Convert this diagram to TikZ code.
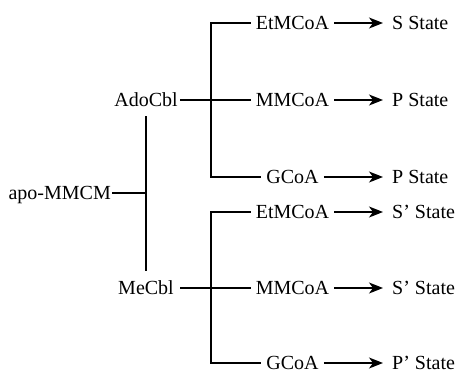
\documentclass[tikz,border=0pt]{standalone}
\usepackage{fontspec}
\setmainfont{Liberation Serif}
\usetikzlibrary{arrows.meta}
\begin{document}
\begin{tikzpicture}[x=1pt,y=-1pt,
  every node/.style={font=\fontsize{20}{24}\selectfont, inner ysep=0pt,
    text height=13pt, text depth=1pt},
  link/.style={line width=1.3pt},
  flow/.style={line width=1.3pt, -{Stealth[length=14pt,width=11pt,inset=4pt]}},
  species/.style={inner xsep=5pt},
  outcome/.style={anchor=west, inner xsep=9pt}]
\useasboundingbox (0,0) rectangle (459,373);

% enzyme and cofactors
\node[anchor=east, inner xsep=1pt] (apo) at (112,193) {apo-MMCM};
\node[anchor=east, inner xsep=2pt] (ado) at (180,100) {AdoCbl};
\node[anchor=east, inner xsep=6pt] (me)  at (180,288) {MeCbl};
\coordinate (jA)   at (146,193);
\coordinate (vTop) at (146,116);
\coordinate (vBot) at (146,271);

% bracket corners
\coordinate (ub1) at (211,23);
\coordinate (ub2) at (211,100);
\coordinate (ub3) at (211,177);
\coordinate (lb1) at (211,212);
\coordinate (lb2) at (211,288);
\coordinate (lb3) at (211,363);

% substrates
\node[species] (u1) at (292.5,23)  {EtMCoA};
\node[species] (u2) at (292.5,100) {MMCoA};
\node[species] (u3) at (292.5,177) {GCoA};
\node[species] (l1) at (292.5,212) {EtMCoA};
\node[species] (l2) at (292.5,288) {MMCoA};
\node[species] (l3) at (292.5,363) {GCoA};

% resulting states
\node[outcome] (s1) at (383,23)  {S State};
\node[outcome] (s2) at (383,100) {P State};
\node[outcome] (s3) at (383,177) {P State};
\node[outcome] (t1) at (383,212) {S’ State};
\node[outcome] (t2) at (383,288) {S’ State};
\node[outcome] (t3) at (383,363) {P’ State};

% tree lines
\draw[link] (apo) -- (jA);
\draw[link] (vTop) -- (vBot);
\draw[link] (ado) -- (ub2) -- (u2);
\draw[link] (me) -- (lb2) -- (l2);
\draw[link] (u1) -- (ub1) -- (ub3) -- (u3);
\draw[link] (l1) -- (lb1) -- (lb3) -- (l3);

% arrows to states
\draw[flow] (u1) -- (s1);
\draw[flow] (u2) -- (s2);
\draw[flow] (u3) -- (s3);
\draw[flow] (l1) -- (t1);
\draw[flow] (l2) -- (t2);
\draw[flow] (l3) -- (t3);
\end{tikzpicture}
\end{document}
